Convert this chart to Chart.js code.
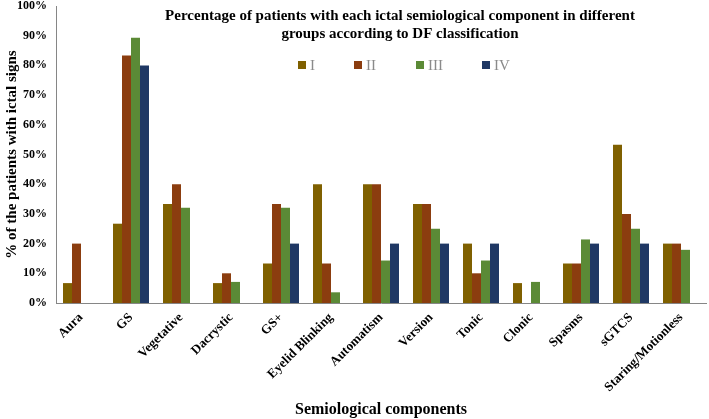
<!DOCTYPE html>
<html>
<head>
<meta charset="utf-8">
<script src="https://cdn.jsdelivr.net/npm/chart.js@4/dist/chart.umd.min.js"></script>
<style>
    html, body { margin: 0; padding: 0; background: #fff; }
    #wrap { width: 709px; height: 419px; }
</style>
</head>
<body>
<div id="wrap"><canvas id="grafico"></canvas></div>
<script>
const categorias = ['Aura', 'GS', 'Vegetative', 'Dacrystic', 'GS+', 'Eyelid Blinking', 'Automatism',
    'Version', 'Tonic', 'Clonic', 'Spasms', 'sGTCS', 'Staring/Motionless'];
const grupos = ['I', 'II', 'III', 'IV'];
const grupoI = [6.7, 26.7, 33.3, 6.7, 13.3, 40, 40, 33.3, 20, 6.7, 13.3, 53.3, 20];
const grupoII = [20, 83.3, 40, 10, 33.3, 13.3, 40, 33.3, 10, 0, 13.3, 30, 20];
const grupoIII = [0, 89.3, 32.1, 7.1, 32.1, 3.6, 14.3, 25, 14.3, 7.1, 21.4, 25, 17.9];
const grupoIV = [0, 80, 0, 0, 20, 0, 20, 20, 20, 0, 20, 20, 0];
const colores = ['#7f6000', '#8b3d0f', '#5b8a36', '#1f3864'];

const fuente = '"Liberation Serif", "Times New Roman", serif';

// titulo y leyenda dibujados dentro del area del grafico
const tituloLeyenda = {
    id: 'tituloLeyenda',
    afterDraw(chart) {
        const ctx = chart.ctx;
        ctx.save();
        ctx.fillStyle = '#000';
        ctx.font = 'bold 15px ' + fuente;
        ctx.textAlign = 'center';
        ctx.textBaseline = 'middle';
        ctx.fillText('Percentage of patients with each ictal semiological component in different', 400, 16);
        ctx.fillText('groups according to DF classification', 400, 34);

        ctx.font = '15px ' + fuente;
        ctx.textAlign = 'left';
        const cajas = [298, 354, 416, 482];
        chart.data.datasets.forEach((ds, i) => {
            ctx.fillStyle = ds.backgroundColor;
            ctx.fillRect(cajas[i], 61, 8, 8);
            ctx.fillStyle = '#8a8a8a';
            ctx.fillText(ds.label, cajas[i] + 12, 66);
        });
        ctx.restore();
    }
};

const datos = [grupoI, grupoII, grupoIII, grupoIV];

new Chart(document.getElementById('grafico'), {
    type: 'bar',
    data: {
        labels: categorias,
        datasets: grupos.map((g, i) => ({
            label: g,
            data: datos[i],
            backgroundColor: colores[i],
            borderWidth: 0,
            categoryPercentage: 0.72,
            barPercentage: 1.0
        }))
    },
    options: {
        responsive: true,
        maintainAspectRatio: false,
        animation: false,
        layout: { padding: { top: 0, right: 3, left: 0, bottom: 0 } },
        plugins: {
            legend: { display: false },
            title: { display: false },
            tooltip: { enabled: false }
        },
        scales: {
            x: {
                grid: { display: false, drawTicks: false },
                border: { display: true, color: '#868686', width: 1 },
                ticks: {
                    color: '#000',
                    font: { family: fuente, size: 13, weight: 'bold' },
                    minRotation: 45,
                    maxRotation: 45,
                    padding: 7,
                    autoSkip: false
                },
                title: {
                    display: true,
                    text: 'Semiological components',
                    color: '#000',
                    font: { family: fuente, size: 16, weight: 'bold' },
                    padding: { top: 0, bottom: 0 }
                },
                afterFit(scale) { scale.height = 116; }
            },
            y: {
                min: 0,
                max: 100,
                grid: { display: false, drawTicks: false },
                border: { display: true, color: '#868686', width: 1 },
                ticks: {
                    stepSize: 10,
                    color: '#000',
                    font: { family: fuente, size: 12, weight: 'bold' },
                    padding: 9,
                    callback: v => v + '%'
                },
                title: {
                    display: true,
                    text: '% of the patients with ictal signs',
                    color: '#000',
                    font: { family: fuente, size: 15, weight: 'bold' },
                    padding: { top: 3, bottom: 0 }
                },
                afterFit(scale) {
                    scale.width = 56;
                    scale.paddingTop = 6;
                }
            }
        }
    },
    plugins: [tituloLeyenda]
});
</script>
</body>
</html>
